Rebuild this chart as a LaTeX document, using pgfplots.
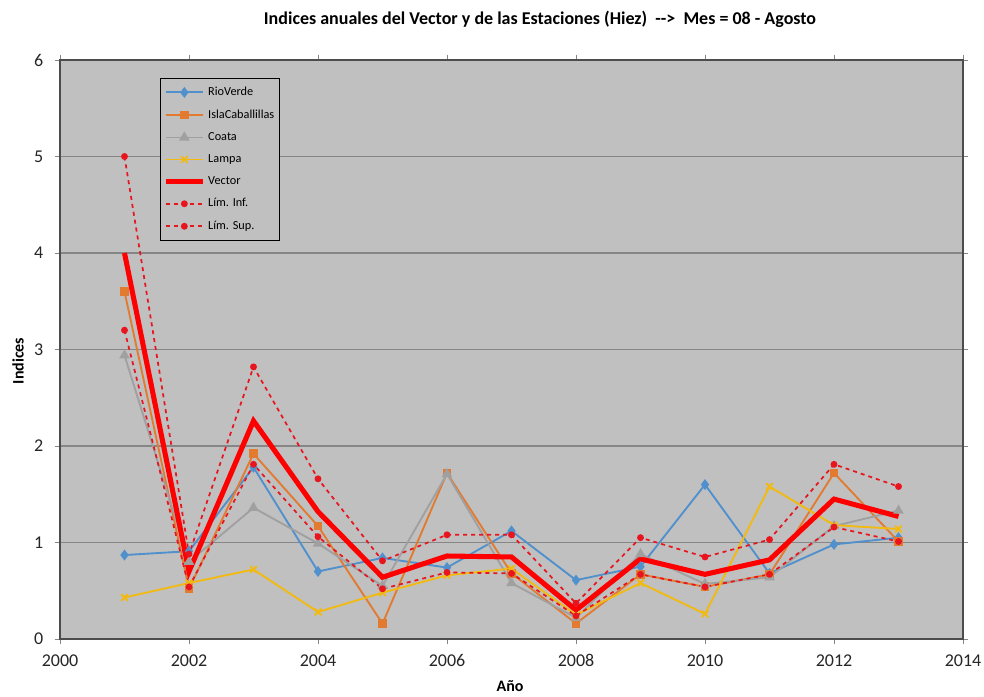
\documentclass[border=0pt]{standalone}
\usepackage{pgfplots}
\pgfplotsset{compat=1.18}
\usepackage{fontspec}
\setmainfont{Carlito}
\definecolor{cBlue}{HTML}{5090CC}
\definecolor{cOrange}{HTML}{E27A30}
\definecolor{cGrey}{HTML}{A0A0A0}
\definecolor{cGold}{HTML}{F2BA10}
\definecolor{cBg}{HTML}{C0C0C0}
\definecolor{cGrid}{HTML}{868686}
\definecolor{cLim}{HTML}{E8141E}
\begin{document}
\begin{tikzpicture}[x=0.75pt,y=0.75pt]
\path[use as bounding box, fill=white] (-60,-57) rectangle (924,639);
\begin{axis}[
  at={(0,0)}, anchor=south west,
  scale only axis, width=677.25pt, height=434.25pt,
  xmin=2000, xmax=2014, ymin=0, ymax=6,
  xtick={2000,2002,...,2014}, ytick={0,1,...,6},
  /pgf/number format/1000 sep={},
  /pgf/number format/assume math mode=true,
  tick label style={font=\fontsize{13.5}{15}\selectfont, text=black!85},
  xticklabel style={yshift=-4pt},
  yticklabel style={xshift=-5pt},
  tick align=outside, major tick length=4pt,
  tick style={cGrid, thin},
  axis background/.style={fill=cBg},
  axis line style={black!70, line width=1pt},
  ymajorgrids, grid style={cGrid, line width=0.8pt},
  legend style={at={(0.1107,0.969)}, anchor=north west, fill=cBg, draw=black, line width=0.8pt,
    font=\fontsize{9.2}{11}\selectfont, row sep=5.1pt, inner xsep=2pt, inner ysep=4.5pt},
  legend cell align=left,
  legend image code/.code={\draw[mark repeat=2,mark phase=2] plot coordinates {(0pt,0pt) (14pt,0pt) (28pt,0pt)};},
  every axis plot/.append style={line width=1.4pt},
  clip=false,
]
\addplot[cBlue, mark=diamond*, mark size=3pt, mark options={solid}] coordinates {
(2001,0.87) (2002,0.91) (2003,1.78) (2004,0.70) (2005,0.84) (2006,0.74) (2007,1.12)
(2008,0.61) (2009,0.75) (2010,1.60) (2011,0.68) (2012,0.98) (2013,1.05)};
\addlegendentry{RioVerde}
\addplot[cOrange, mark=square*, mark size=2.6pt] coordinates {
(2001,3.60) (2002,0.52) (2003,1.92) (2004,1.17) (2005,0.16) (2006,1.72) (2007,0.68)
(2008,0.16) (2009,0.67) (2010,0.54) (2011,0.67) (2012,1.72) (2013,1.01)};
\addlegendentry{IslaCaballillas}
\addplot[cGrey, mark=triangle*, mark size=3.2pt] coordinates {
(2001,2.94) (2002,0.80) (2003,1.36) (2004,0.99) (2005,0.55) (2006,1.71) (2007,0.58)
(2008,0.22) (2009,0.88) (2010,0.57) (2011,0.64) (2012,1.17) (2013,1.33)};
\addlegendentry{Coata}
\addplot[cGold, mark=x, mark size=3.5pt] coordinates {
(2001,0.43) (2002,0.58) (2003,0.72) (2004,0.28) (2005,0.48) (2006,0.66) (2007,0.73)
(2008,0.25) (2009,0.58) (2010,0.26) (2011,1.58) (2012,1.18) (2013,1.14)};
\addlegendentry{Lampa}
\addplot[red, line width=3.8pt, no marks] coordinates {
(2001,4.00) (2002,0.70) (2003,2.26) (2004,1.32) (2005,0.64) (2006,0.86) (2007,0.85)
(2008,0.30) (2009,0.83) (2010,0.67) (2011,0.82) (2012,1.45) (2013,1.27)};
\addlegendentry{Vector}
\addplot[cLim, dashed, line width=1.3pt, mark=*, mark size=1.9pt, mark options={solid}] coordinates {
(2001,3.20) (2002,0.54) (2003,1.81) (2004,1.06) (2005,0.52) (2006,0.69) (2007,0.68)
(2008,0.24) (2009,0.67) (2010,0.54) (2011,0.67) (2012,1.16) (2013,1.01)};
\addlegendentry{Lím. Inf.}
\addplot[cLim, dashed, line width=1.3pt, mark=*, mark size=1.9pt, mark options={solid}] coordinates {
(2001,5.00) (2002,0.88) (2003,2.82) (2004,1.66) (2005,0.81) (2006,1.08) (2007,1.08)
(2008,0.37) (2009,1.05) (2010,0.85) (2011,1.03) (2012,1.81) (2013,1.58)};
\addlegendentry{Lím. Sup.}
\end{axis}
\node[font=\bfseries\fontsize{13.5}{15}\selectfont] at (480,620) {Indices anuales del Vector y de las Estaciones (Hiez)\ \ -{}->\ \ Mes = 08 - Agosto};
\node[font=\bfseries\fontsize{12}{13}\selectfont] at (450,-47) {Año};
\node[font=\bfseries\fontsize{12}{13}\selectfont, rotate=90] at (-42,278) {Indices};
\end{tikzpicture}
\end{document}
